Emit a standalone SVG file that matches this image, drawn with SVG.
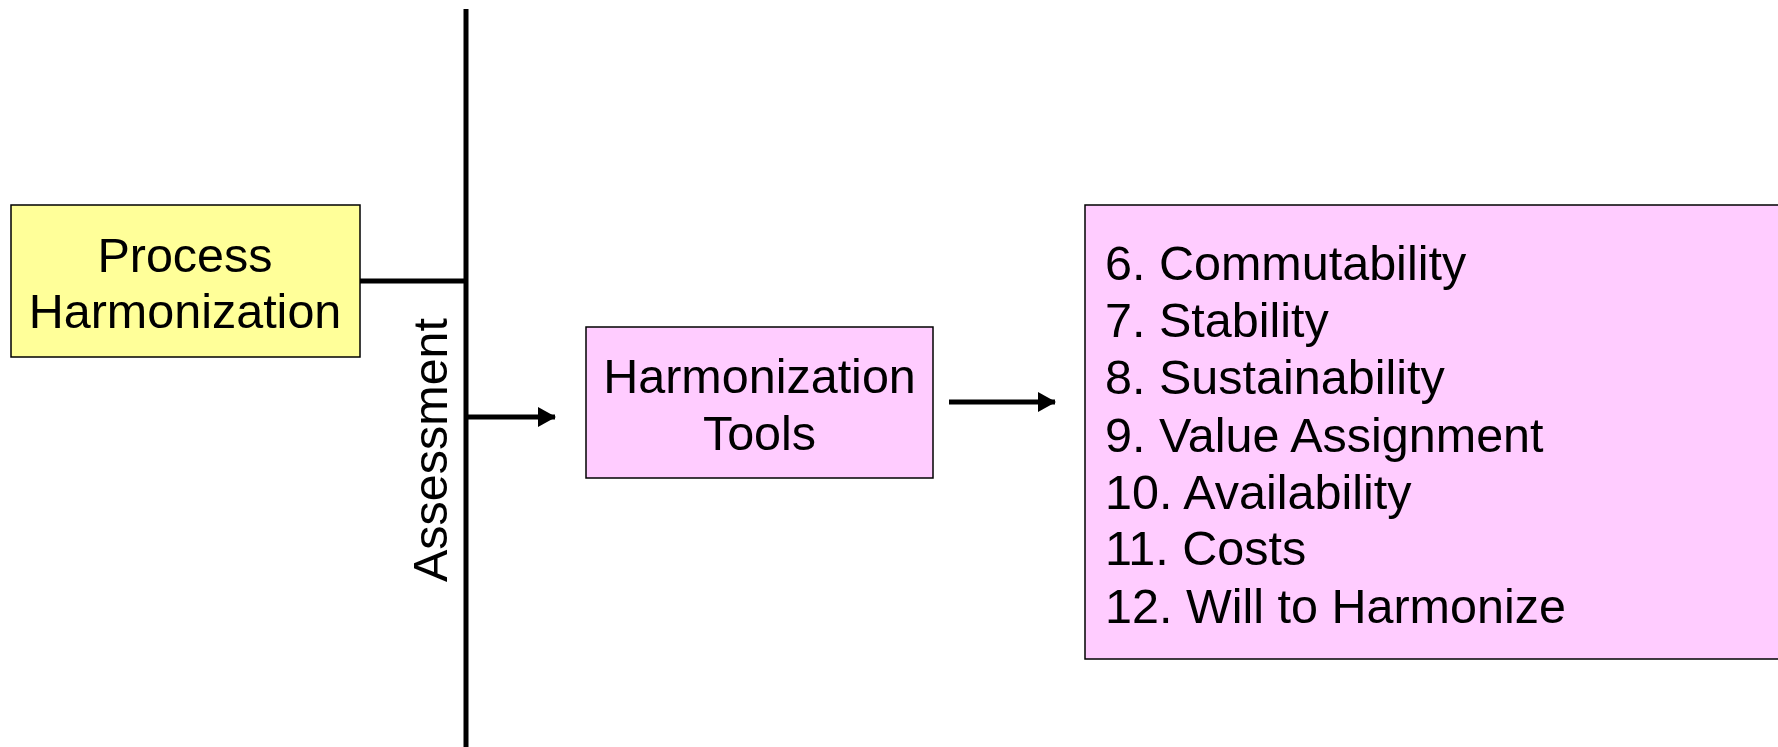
<svg xmlns="http://www.w3.org/2000/svg" width="1778" height="747" viewBox="0 0 1778 747">
<defs>
<style>
.t{font-family:"Liberation Sans",Arial,sans-serif;font-size:48.5px;fill:#000}
.box{stroke:#000;stroke-width:1.5}
.ln{stroke:#000;stroke-width:5;fill:none}
</style>
<marker id="ah" markerWidth="18" markerHeight="20" refX="17" refY="10" orient="auto" markerUnits="userSpaceOnUse">
<path d="M0,0 L18,10 L0,20 Z" fill="#000"/>
</marker>
</defs>
<rect width="1778" height="747" fill="#fff"/>
<g id="connectors">
<line class="ln" x1="466" y1="9" x2="466" y2="747"/>
<line class="ln" x1="360" y1="281" x2="466" y2="281"/>
<line class="ln" x1="466" y1="417" x2="555" y2="417" marker-end="url(#ah)"/>
<line class="ln" x1="949" y1="402" x2="1055" y2="402" marker-end="url(#ah)"/>
</g>
<g id="assessment">
<text class="t" transform="translate(447,450) rotate(-90)" text-anchor="middle">Assessment</text>
</g>
<g id="process">
<rect class="box" x="11" y="205" width="349" height="152" fill="#FFFF99"/>
<text class="t" x="185" y="272" text-anchor="middle">Process</text>
<text class="t" x="185" y="328" text-anchor="middle">Harmonization</text>
</g>
<g id="tools">
<rect class="box" x="586" y="327" width="347" height="151" fill="#FFCCFF"/>
<text class="t" x="759.5" y="393" text-anchor="middle">Harmonization</text>
<text class="t" x="759.5" y="450" text-anchor="middle">Tools</text>
</g>
<g id="criteria">
<rect class="box" x="1085" y="205" width="700" height="454" fill="#FFCCFF"/>
<text class="t" x="1105" y="280">6. Commutability</text>
<text class="t" x="1105" y="337">7. Stability</text>
<text class="t" x="1105" y="394">8. Sustainability</text>
<text class="t" x="1105" y="452">9. Value Assignment</text>
<text class="t" x="1105" y="509">10. Availability</text>
<text class="t" x="1105" y="565">11. Costs</text>
<text class="t" x="1105" y="623">12. Will to Harmonize</text>
</g>
</svg>
